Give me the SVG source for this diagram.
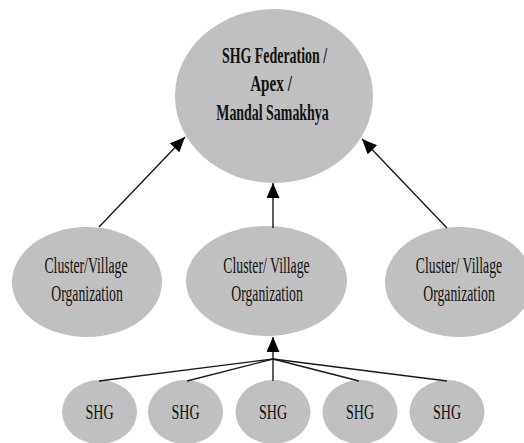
<svg xmlns="http://www.w3.org/2000/svg" width="524" height="443" viewBox="0 0 524 443">
<style>
.node{fill:#c0c0c0;stroke:none}
.t{font-family:"Liberation Serif","Times New Roman",serif;fill:#111;text-anchor:middle}
.tb{font-size:23px;font-weight:bold}
.tm{font-size:23.5px}
.ts{font-size:22px}
.c{stroke:#1a1a1a;stroke-width:1.4;fill:none}
</style>
<defs>
<marker id="ah" markerUnits="userSpaceOnUse" markerWidth="16" markerHeight="14" refX="15" refY="6.5" orient="auto">
<path d="M0,0 L15,6.5 L0,13 Z" fill="#000"/>
</marker>
</defs>
<rect width="524" height="443" fill="#fff"/>
<g id="apex">
<ellipse class="node" cx="274" cy="96" rx="99" ry="87"/>
<text class="t tb" transform="translate(274.5,63) scale(0.605,1)">SHG Federation /</text>
<text class="t tb" transform="translate(271,91) scale(0.66,1)">Apex /</text>
<text class="t tb" transform="translate(272.5,120) scale(0.605,1)">Mandal Samakhya</text>
</g>
<g id="vo-left">
<ellipse class="node" cx="87" cy="282" rx="75" ry="55"/>
<text class="t tm" transform="translate(86,273) scale(0.585,1)">Cluster/Village</text>
<text class="t tm" transform="translate(87,301) scale(0.585,1)">Organization</text>
</g>
<g id="vo-center">
<ellipse class="node" cx="266.5" cy="281" rx="80.5" ry="55"/>
<text class="t tm" transform="translate(266.5,273) scale(0.585,1)">Cluster/ Village</text>
<text class="t tm" transform="translate(267,301) scale(0.585,1)">Organization</text>
</g>
<g id="vo-right">
<ellipse class="node" cx="459" cy="282" rx="74" ry="55"/>
<text class="t tm" transform="translate(459,273) scale(0.585,1)">Cluster/ Village</text>
<text class="t tm" transform="translate(459,301) scale(0.585,1)">Organization</text>
</g>
<g id="shg1">
<ellipse class="node" cx="99.5" cy="412" rx="37.5" ry="32"/>
<text class="t ts" transform="translate(99.5,419) scale(0.64,1)">SHG</text>
</g>
<g id="shg2">
<ellipse class="node" cx="185.5" cy="412" rx="37.5" ry="32"/>
<text class="t ts" transform="translate(185.5,419) scale(0.64,1)">SHG</text>
</g>
<g id="shg3">
<ellipse class="node" cx="273" cy="412" rx="37.5" ry="32"/>
<text class="t ts" transform="translate(273,419) scale(0.64,1)">SHG</text>
</g>
<g id="shg4">
<ellipse class="node" cx="360" cy="412" rx="37.5" ry="32"/>
<text class="t ts" transform="translate(360,419) scale(0.64,1)">SHG</text>
</g>
<g id="shg5">
<ellipse class="node" cx="447" cy="412" rx="37.5" ry="32"/>
<text class="t ts" transform="translate(447,419) scale(0.64,1)">SHG</text>
</g>
<g id="connectors">
<line class="c" x1="99" y1="227" x2="185" y2="137" marker-end="url(#ah)"/>
<line class="c" x1="273" y1="228" x2="273" y2="183" marker-end="url(#ah)"/>
<line class="c" x1="447" y1="228" x2="362" y2="139" marker-end="url(#ah)"/>
<line class="c" x1="273" y1="381" x2="273" y2="337" marker-end="url(#ah)"/>
<line class="c" x1="99" y1="381" x2="273" y2="359"/>
<line class="c" x1="187" y1="381" x2="273" y2="359"/>
<line class="c" x1="359" y1="381" x2="273" y2="359"/>
<line class="c" x1="447" y1="381" x2="273" y2="359"/>
</g>
</svg>
